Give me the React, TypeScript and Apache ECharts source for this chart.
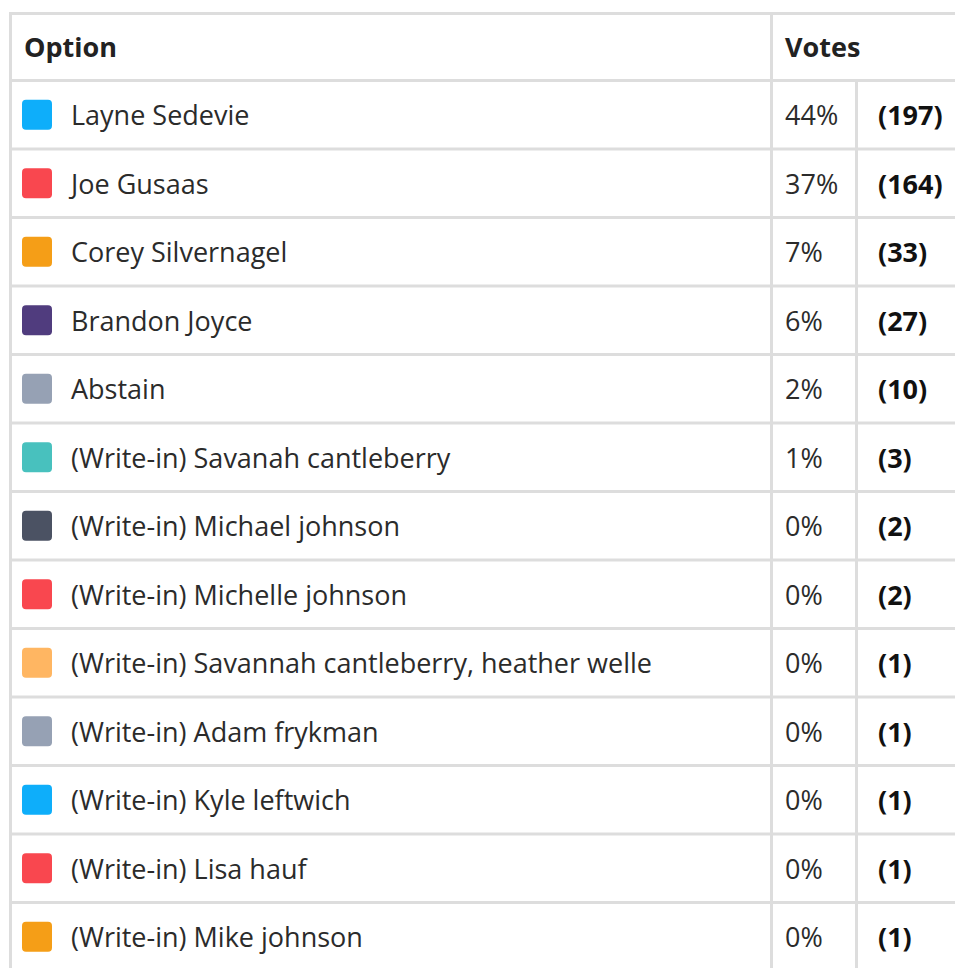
import React, { useEffect, useRef } from "react";
import * as echarts from "echarts";

const options = [
  "Layne Sedevie",
  "Joe Gusaas",
  "Corey Silvernagel",
  "Brandon Joyce",
  "Abstain",
  "(Write-in) Savanah cantleberry",
  "(Write-in) Michael johnson",
  "(Write-in) Michelle johnson",
  "(Write-in) Savannah cantleberry, heather welle",
  "(Write-in) Adam frykman",
  "(Write-in) Kyle leftwich",
  "(Write-in) Lisa hauf",
  "(Write-in) Mike johnson",
];
const percents = ["44%", "37%", "7%", "6%", "2%", "1%", "0%", "0%", "0%", "0%", "0%", "0%", "0%"];
const votes = [197, 164, 33, 27, 10, 3, 2, 2, 1, 1, 1, 1, 1];
const swatchColors = [
  "#0EAEFA", "#F9474F", "#F59E17", "#503C7E", "#96A1B4", "#48C1BE", "#4B5263",
  "#F9474F", "#FFB662", "#96A1B4", "#0EAEFA", "#F9474F", "#F59E17",
];
const headers = ["Option", "Votes"];

export default function App() {
  const ref = useRef<HTMLDivElement>(null);
  useEffect(() => {
    document.body.style.margin = "0";
    const chart = echarts.init(ref.current!, null, { renderer: "svg" });
    const lineColor = "#DDDDDD";
    const textColor = "#2B2B2B";
    const font = "'Open Sans', 'Noto Sans', sans-serif";
    const fs = 27;
    const top = 12;
    const headerBottom = 79;
    const rowH = 68.5;
    const W = 955;
    const H = 968;
    const els: any[] = [];
    els.push({ type: "rect", shape: { x: 0, y: 0, width: W, height: H }, style: { fill: "#fff" } });
    els.push({ type: "rect", shape: { x: 9, y: top, width: W - 9, height: 3 }, style: { fill: lineColor } });
    for (let i = 0; i <= options.length; i++) {
      const y = headerBottom + i * rowH;
      els.push({ type: "rect", shape: { x: 9, y, width: W - 9, height: 3 }, style: { fill: lineColor } });
    }
    els.push({ type: "rect", shape: { x: 9, y: top, width: 3, height: H }, style: { fill: lineColor } });
    els.push({ type: "rect", shape: { x: 770, y: top, width: 3, height: H }, style: { fill: lineColor } });
    els.push({ type: "rect", shape: { x: 855, y: headerBottom, width: 3, height: H }, style: { fill: lineColor } });
    const hy = (top + 3 + headerBottom) / 2 - 1;
    els.push({ type: "text", x: 24, y: hy, style: { text: headers[0], fill: "#222", font: `bold ${fs}px ${font}`, textVerticalAlign: "middle" } });
    els.push({ type: "text", x: 785, y: hy, style: { text: headers[1], fill: "#222", font: `bold ${fs}px ${font}`, textVerticalAlign: "middle" } });
    options.forEach((name, i) => {
      const y0 = headerBottom + 3 + i * rowH;
      const cy = y0 + (rowH - 3) / 2 + 1;
      els.push({ type: "rect", shape: { x: 22, y: cy - 16, width: 30, height: 30, r: 4 }, style: { fill: swatchColors[i] } });
      els.push({ type: "text", x: 71, y: cy - 1, style: { text: name, fill: textColor, font: `${fs}px ${font}`, textVerticalAlign: "middle" } });
      els.push({ type: "text", x: 785, y: cy - 1, style: { text: percents[i], fill: textColor, font: `${fs}px ${font}`, textVerticalAlign: "middle" } });
      els.push({ type: "text", x: 878, y: cy - 1, style: { text: `(${votes[i]})`, fill: "#111", font: `bold ${fs}px ${font}`, textVerticalAlign: "middle" } });
    });
    chart.setOption({ animation: false, graphic: { elements: els } });
    return () => chart.dispose();
  }, []);
  return <div ref={ref} style={{ width: 955, height: 968 }} />;
}
